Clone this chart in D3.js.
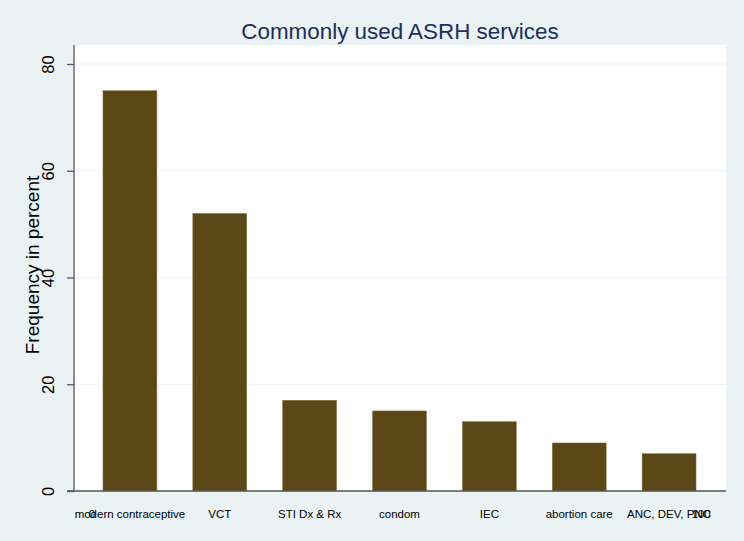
<!DOCTYPE html>
<html>
<head>
<meta charset="utf-8">
<script src="https://cdn.jsdelivr.net/npm/d3@7"></script>
<style>
  body { margin: 0; background: #eaf2f3; }
  svg { display: block; }
  text { font-family: "Liberation Sans", Arial, sans-serif; }
</style>
</head>
<body>
<div id="chart"></div>
<script>
// Chart data
const categories = ["modern contraceptive", "VCT", "STI Dx & Rx", "condom", "IEC", "abortion care", "ANC, DEV, PNC"];
const values = [75, 52, 17, 15, 13, 9, 7];
const yTicks = [0, 20, 40, 60, 80];
const xTicks = [0, 100];

const width = 744, height = 541;
const plot = { left: 74, right: 726, top: 45, bottom: 491 };

const svg = d3.select("#chart").append("svg")
    .attr("width", width)
    .attr("height", height);

// Graph region background
svg.append("rect")
    .attr("width", width).attr("height", height)
    .attr("fill", "#eaf2f3");

// Plot region
svg.append("rect")
    .attr("x", plot.left).attr("y", plot.top)
    .attr("width", plot.right - plot.left)
    .attr("height", plot.bottom - plot.top)
    .attr("fill", "#ffffff");

const y = d3.scaleLinear().domain([0, 80]).range([491, 64]);
const x = d3.scaleBand().domain(categories).range([85, 714])
    .paddingInner(0.4).paddingOuter(0.2);
// the stray 0..100 scale Stata put on the category axis
const xLin = d3.scaleLinear().domain([0, 100]).range([92, 701]);

// Grid lines
svg.selectAll(".grid")
    .data(yTicks.filter(d => d > 0))
    .enter().append("line")
    .attr("x1", plot.left).attr("x2", plot.right)
    .attr("y1", d => y(d)).attr("y2", d => y(d))
    .attr("stroke", "#eaf2f3")
    .attr("stroke-width", 1.2);

// Bars
svg.selectAll(".bar")
    .data(values)
    .enter().append("rect")
    .attr("x", (d, i) => x(categories[i]))
    .attr("y", d => y(d))
    .attr("width", x.bandwidth())
    .attr("height", d => y(0) - y(d))
    .attr("fill", "#5c4817")
    .attr("stroke", "#8a7448")
    .attr("stroke-width", 0.5);

// Y axis
const yAxis = svg.append("g")
    .attr("transform", `translate(${plot.left},0)`)
    .call(d3.axisLeft(y).tickValues(yTicks).tickSize(7).tickSizeOuter(0).tickFormat(d3.format("d")));
yAxis.select(".domain").attr("d", `M0,${plot.top}V${plot.bottom}`).attr("stroke", "#555").attr("stroke-width", 1.3);
yAxis.selectAll(".tick line").attr("stroke", "#555").attr("stroke-width", 1.3);
yAxis.selectAll(".tick text")
    .attr("x", 0).attr("dy", null)
    .attr("transform", "translate(-24,0) rotate(-90)")
    .attr("text-anchor", "middle")
    .attr("dominant-baseline", "middle")
    .style("font-size", "16.5px")
    .attr("fill", "#000");

// X axis line
svg.append("line")
    .attr("x1", 67).attr("x2", plot.right)
    .attr("y1", plot.bottom).attr("y2", plot.bottom)
    .attr("stroke", "#555").attr("stroke-width", 1.3);

// Category labels
svg.selectAll(".cat")
    .data(categories)
    .enter().append("text")
    .attr("x", d => x(d) + x.bandwidth() / 2)
    .attr("y", 518)
    .attr("text-anchor", "middle")
    .style("font-size", "11.5px")
    .text(d => d);

// 0 / 100 labels overlapping the categories
svg.selectAll(".xt")
    .data(xTicks)
    .enter().append("text")
    .attr("x", d => xLin(d))
    .attr("y", 518)
    .attr("text-anchor", "middle")
    .style("font-size", "11.5px")
    .text(d => d);

// Y axis title
svg.append("text")
    .attr("transform", "translate(39,265) rotate(-90)")
    .attr("text-anchor", "middle")
    .style("font-size", "19px")
    .text("Frequency in percent");

// Title
svg.append("text")
    .attr("x", 400).attr("y", 39)
    .attr("text-anchor", "middle")
    .style("font-size", "22.4px")
    .attr("fill", "#1c2e5c")
    .text("Commonly used ASRH services");
</script>
</body>
</html>
